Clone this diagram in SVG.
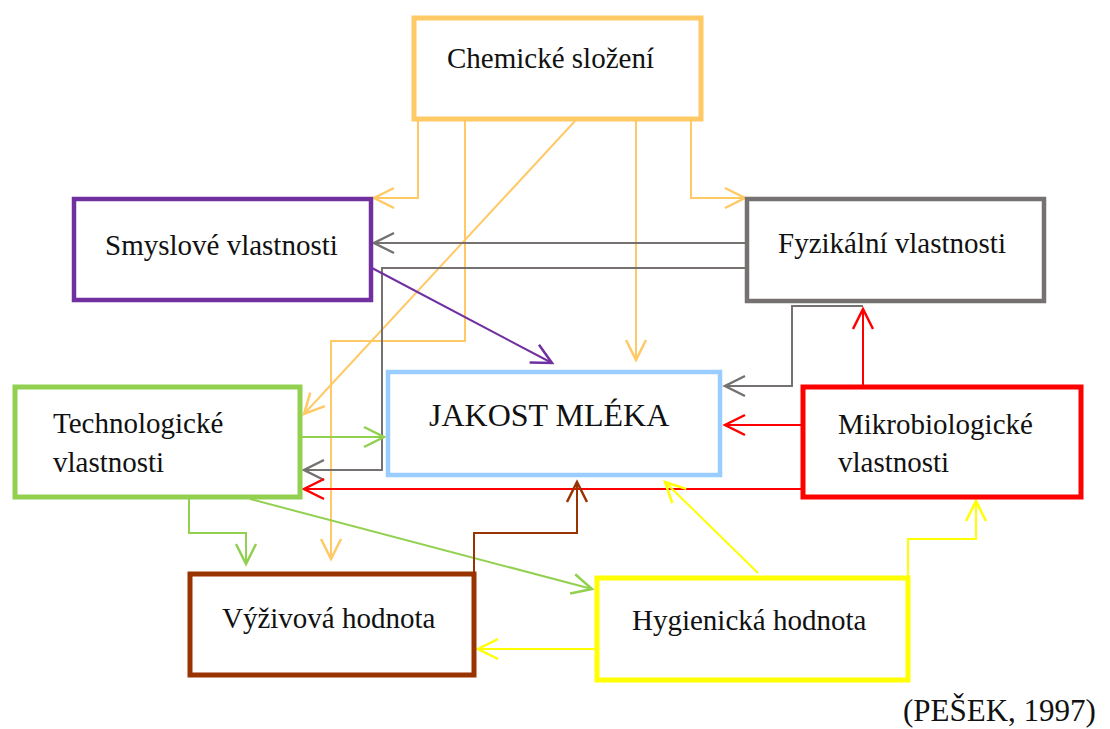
<svg xmlns="http://www.w3.org/2000/svg" width="1110" height="729" viewBox="0 0 1110 729">
<style>
.box{fill:#fff;}
.t{font-family:"Liberation Serif","Times New Roman",serif;font-size:29px;fill:#111;}
.c{fill:none;stroke-width:2;}
</style>
<defs>
<marker id="mO" markerUnits="userSpaceOnUse" viewBox="-22 -12 24 24" refX="0" refY="0" markerWidth="24" markerHeight="24" orient="auto" overflow="visible"><path d="M-20,-10 L0,0 L-20,10" fill="none" stroke="#FFC966" stroke-width="2.5"/></marker>
<marker id="mG" markerUnits="userSpaceOnUse" viewBox="-22 -12 24 24" refX="0" refY="0" markerWidth="24" markerHeight="24" orient="auto" overflow="visible"><path d="M-20,-10 L0,0 L-20,10" fill="none" stroke="#767171" stroke-width="2.5"/></marker>
<marker id="mR" markerUnits="userSpaceOnUse" viewBox="-22 -12 24 24" refX="0" refY="0" markerWidth="24" markerHeight="24" orient="auto" overflow="visible"><path d="M-20,-10 L0,0 L-20,10" fill="none" stroke="#FF0000" stroke-width="2.5"/></marker>
<marker id="mL" markerUnits="userSpaceOnUse" viewBox="-22 -12 24 24" refX="0" refY="0" markerWidth="24" markerHeight="24" orient="auto" overflow="visible"><path d="M-20,-10 L0,0 L-20,10" fill="none" stroke="#92D050" stroke-width="2.5"/></marker>
<marker id="mY" markerUnits="userSpaceOnUse" viewBox="-22 -12 24 24" refX="0" refY="0" markerWidth="24" markerHeight="24" orient="auto" overflow="visible"><path d="M-20,-10 L0,0 L-20,10" fill="none" stroke="#FFFF00" stroke-width="2.5"/></marker>
<marker id="mB" markerUnits="userSpaceOnUse" viewBox="-22 -12 24 24" refX="0" refY="0" markerWidth="24" markerHeight="24" orient="auto" overflow="visible"><path d="M-20,-10 L0,0 L-20,10" fill="none" stroke="#993300" stroke-width="2.5"/></marker>
<marker id="mP" markerUnits="userSpaceOnUse" viewBox="-22 -12 24 24" refX="0" refY="0" markerWidth="24" markerHeight="24" orient="auto" overflow="visible"><path d="M-20,-10 L0,0 L-20,10" fill="none" stroke="#7030A0" stroke-width="2.5"/></marker>
</defs>
<rect width="1110" height="729" fill="#fff"/>
<g id="connectors">
<polyline class="c" stroke="#FFC966" points="418,121 418,198 374,198" marker-end="url(#mO)"/>
<polyline class="c" stroke="#FFC966" points="465,121 465,341 331,341 331,559" marker-end="url(#mO)"/>
<polyline class="c" stroke="#FFC966" points="575,121 304,414" marker-end="url(#mO)"/>
<polyline class="c" stroke="#FFC966" points="636,121 636,360" marker-end="url(#mO)"/>
<polyline class="c" stroke="#FFC966" points="691,121 691,198 745,198" marker-end="url(#mO)"/>
<polyline class="c" stroke="#767171" points="746,243 374,243" marker-end="url(#mG)"/>
<polyline class="c" stroke="#767171" points="746,268 382,268 382,470 304,470" marker-end="url(#mG)"/>
<polyline class="c" stroke="#767171" points="863,306 792,306 792,386 725,386" marker-end="url(#mG)"/>
<polyline class="c" stroke="#7030A0" points="372,268 552,363" marker-end="url(#mP)"/>
<polyline class="c" stroke="#FF0000" points="863,385 863,309" marker-end="url(#mR)"/>
<polyline class="c" stroke="#FF0000" points="802,425 725,425" marker-end="url(#mR)"/>
<polyline class="c" stroke="#FF0000" points="802,489 304,489" marker-end="url(#mR)"/>
<polyline class="c" stroke="#92D050" points="302,437 384,437" marker-end="url(#mL)"/>
<polyline class="c" stroke="#92D050" points="189,499 189,533 246,533 246,564" marker-end="url(#mL)"/>
<polyline class="c" stroke="#92D050" points="250,499 592,589" marker-end="url(#mL)"/>
<polyline class="c" stroke="#993300" points="474,573 474,533 577,533 577,482" marker-end="url(#mB)"/>
<polyline class="c" stroke="#FFFF00" points="758,573 665,482" marker-end="url(#mY)"/>
<polyline class="c" stroke="#FFFF00" points="908,577 908,539 976,539 976,501" marker-end="url(#mY)"/>
<polyline class="c" stroke="#FFFF00" points="596,649 478,649" marker-end="url(#mY)"/>
</g>
<g id="chemicke">
<rect class="box" x="414" y="18" width="287" height="101" stroke="#FFC966" stroke-width="5"/>
<text class="t" x="447" y="68">Chemické složení</text>
</g>
<g id="smyslove">
<rect class="box" x="74" y="199" width="297" height="101" stroke="#7030A0" stroke-width="4.5"/>
<text class="t" x="105" y="255">Smyslové vlastnosti</text>
</g>
<g id="fyzikalni">
<rect class="box" x="747" y="199" width="297" height="102" stroke="#767171" stroke-width="4.5"/>
<text class="t" x="778" y="253">Fyzikální vlastnosti</text>
</g>
<g id="jakost">
<rect class="box" x="388" y="372" width="332" height="103" stroke="#99CCFF" stroke-width="4.5"/>
<text class="t" x="429" y="426" style="font-size:32px">JAKOST MLÉKA</text>
</g>
<g id="technologicke">
<rect class="box" x="15" y="387" width="285" height="110" stroke="#92D050" stroke-width="5"/>
<text class="t" x="53" y="433">Technologické</text>
<text class="t" x="53" y="472">vlastnosti</text>
</g>
<g id="mikrobiologicke">
<rect class="box" x="803" y="387" width="278" height="110" stroke="#FF0000" stroke-width="5"/>
<text class="t" x="838" y="434">Mikrobiologické</text>
<text class="t" x="838" y="472">vlastnosti</text>
</g>
<g id="vyzivova">
<rect class="box" x="190" y="574" width="284" height="101" stroke="#993300" stroke-width="5"/>
<text class="t" x="222" y="628">Výživová hodnota</text>
</g>
<g id="hygienicka">
<rect class="box" x="597" y="578" width="311" height="102" stroke="#FFFF00" stroke-width="5"/>
<text class="t" x="632" y="630">Hygienická hodnota</text>
</g>
<text class="t" x="903" y="721" style="font-size:31px">(PEŠEK, 1997)</text>
</svg>
